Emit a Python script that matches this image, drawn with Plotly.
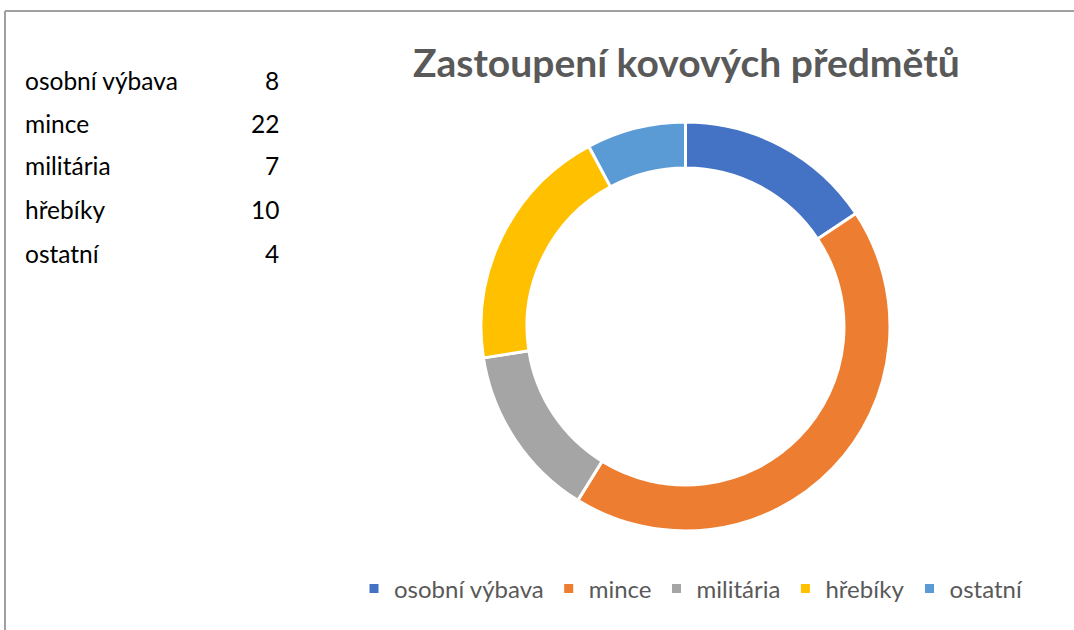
import plotly.graph_objects as go

categories = ["osobní výbava", "mince", "militária", "hřebíky", "ostatní"]
values = [8, 22, 7, 10, 4]
colors = ["#4472C4", "#ED7D31", "#A5A5A5", "#FFC000", "#5B9BD5"]
title_text = "Zastoupení kovových předmětů"

W, H = 1074, 630
FONT = "Lato, Calibri, sans-serif"

fig = go.Figure()
fig.add_trace(go.Pie(
    labels=categories, values=values, hole=0.775, sort=False,
    direction="clockwise", rotation=0,
    marker=dict(colors=colors, line=dict(color="white", width=3)),
    textinfo="none", hoverinfo="label+value",
    domain=dict(x=[481 / W, 890 / W], y=[(H - 531) / H, (H - 122) / H]),
))

# Left-side data table
row_y = [80, 124, 166, 210, 253]
for cat, val, y in zip(categories, values, row_y):
    fig.add_annotation(x=23 / W, y=1 - y / H, xref="paper", yref="paper",
                       text=cat, showarrow=False, xanchor="left", yanchor="middle",
                       font=dict(family=FONT, size=24.5, color="#000000"))
    fig.add_annotation(x=281 / W, y=1 - y / H, xref="paper", yref="paper",
                       text=str(val), showarrow=False, xanchor="right", yanchor="middle",
                       font=dict(family=FONT, size=24.5, color="#000000"))

# Title
fig.add_annotation(x=686 / W, y=1 - 62 / H, xref="paper", yref="paper",
                   text="<b>" + title_text + "</b>", showarrow=False,
                   xanchor="center", yanchor="middle",
                   font=dict(family=FONT, size=39, color="#595959"))

# Frame lines
fig.add_shape(type="line", xref="paper", yref="paper", x0=5 / W, x1=1, y0=1 - 11 / H, y1=1 - 11 / H,
              line=dict(color="#A0A0A0", width=2))
fig.add_shape(type="line", xref="paper", yref="paper", x0=5 / W, x1=5 / W, y0=0, y1=1 - 11 / H,
              line=dict(color="#A0A0A0", width=2))

fig.update_layout(
    width=W, height=H,
    margin=dict(l=0, r=0, t=0, b=0),
    paper_bgcolor="white", plot_bgcolor="white",
    showlegend=True,
    legend=dict(orientation="h", x=691 / W, xanchor="center", y=1 - 589 / H, yanchor="middle",
                font=dict(family=FONT, size=24, color="#595959"),
                itemwidth=30, tracegroupgap=0, bgcolor="rgba(0,0,0,0)"),
)

fig.write_html("out.html")
